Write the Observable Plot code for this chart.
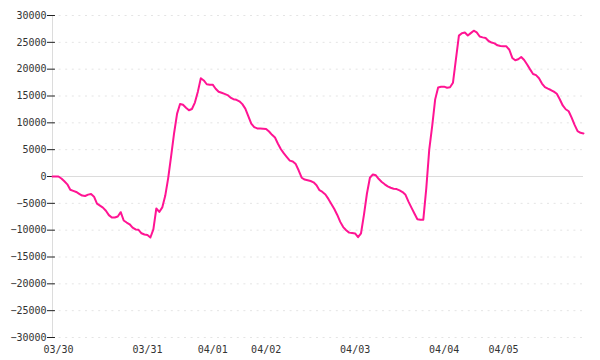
<!DOCTYPE html>
<html>
<head>
<meta charset="utf-8">
<script src="https://cdn.jsdelivr.net/npm/d3@7"></script>
<script src="https://cdn.jsdelivr.net/npm/@observablehq/plot@0.6"></script>
<style>
  html, body { margin: 0; padding: 0; background: #fff; }
  #chart { width: 600px; height: 360px; }
</style>
</head>
<body>
<div id="chart"></div>
<script>
// Series values (one per time step, 180 steps)
const values = [
  0, 0, 0, -370, -890, -1460, -2470, -2680, -2880, -3220,
  -3550, -3630, -3380, -3275, -3760, -5060, -5430, -5790, -6380, -7195,
  -7650, -7650, -7460, -6650, -8200, -8580, -8900, -9515, -9860, -9940,
  -10580, -10810, -10910, -11370, -9870, -5960, -6610, -5760, -3600, -290,
  3860, 8110, 11710, 13510, 13360, 12810, 12340, 12580, 13780, 15810,
  18300, 17890, 17190, 17110, 17110, 16350, 15780, 15600, 15390, 15170,
  14700, 14400, 14290, 14010, 13490, 12640, 11270, 9850, 9210, 8960,
  8925, 8890, 8860, 8390, 7770, 7260, 6110, 5080, 4300, 3630,
  2960, 2800, 2310, 1110, -230, -575, -690, -846, -1080, -1614,
  -2554, -2875, -3343, -4176, -5105, -6070, -7160, -8455, -9430, -10010,
  -10460, -10540, -10620, -11310, -10580, -7090, -3170, -236, 383, 225,
  -480, -1030, -1455, -1830, -2100, -2270, -2337, -2585, -2904, -3407,
  -4687, -5790, -6885, -7953, -8045, -8040, -2220, 5020, 9440, 14370,
  16600, 16738, 16738, 16545, 16620, 17470, 21870, 26254, 26700, 26820,
  26265, 26720, 27160, 26850, 26080, 25925, 25820, 25250, 24960, 24810,
  24440, 24310, 24258, 24258, 23620, 22093, 21650, 21846, 22275, 21720,
  20880, 19960, 19095, 18880, 18305, 17315, 16640, 16368, 16113, 15810,
  15413, 14400, 13240, 12532, 12157, 10980, 9614, 8460, 8135, 8030
];
// X tick positions (step index where each day starts) and labels
const xTickIndex = [0, 30, 52, 70, 100, 130, 150];
const xTickLabels = ["03/30", "03/31", "04/01", "04/02", "04/03", "04/04", "04/05"];
// Y ticks
const yTicks = [-30000, -25000, -20000, -15000, -10000, -5000, 0, 5000, 10000, 15000, 20000, 25000, 30000];

const data = values.map((v, i) => ({i, v}));
const font = "DejaVu Sans Mono, monospace";

const chart = Plot.plot({
  width: 600,
  height: 360,
  marginLeft: 52,
  marginRight: 17,
  marginTop: 15,
  marginBottom: 23,
  style: {fontFamily: font, fontSize: "10px", color: "#333", background: "#fff"},
  x: {domain: [0, values.length - 1]},
  y: {domain: [-30000, 30000]},
  marks: [
    Plot.gridY(yTicks.filter(d => d !== 0), {stroke: "#e4e4e4", strokeOpacity: 1, strokeDasharray: "2,4.6"}),
    Plot.ruleY([0], {stroke: "#dcdcdc", strokeWidth: 1}),
    Plot.ruleX([0], {stroke: "#dcdcdc", strokeWidth: 1}),
    Plot.ruleY(yTicks, {x1: 0, x2: 1, stroke: "#222", strokeWidth: 1}),
    Plot.axisY({ticks: yTicks, tickSize: 5, tickPadding: 1, tickFormat: d => d3.format("d")(d), stroke: "#222", fill: "#333", fontSize: 10, label: null}),
    Plot.axisX({ticks: xTickIndex, tickSize: 0, tickPadding: 8, tickFormat: d => xTickLabels[xTickIndex.indexOf(d)], dx: 6, fill: "#333", fontSize: 10, label: null}),
    Plot.lineY(data, {x: "i", y: "v", stroke: "#ff1493", strokeWidth: 2})
  ]
});
document.getElementById("chart").appendChild(chart);
</script>
</body>
</html>
